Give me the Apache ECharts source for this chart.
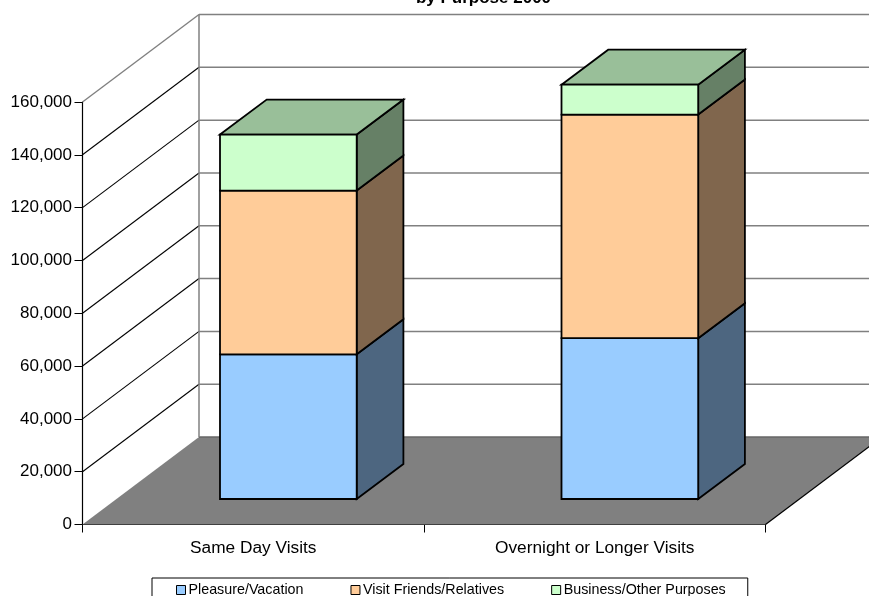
<!DOCTYPE html>
<html><head><meta charset="utf-8">
<style>html,body{margin:0;padding:0;background:#fff}#c{width:869px;height:596px}</style>
<script src="https://cdn.jsdelivr.net/npm/echarts@6/dist/echarts.min.js"></script>
</head><body><div id="c"></div>
<script>
const categories = ['Same Day Visits', 'Overnight or Longer Visits'];
const seriesNames = ['Pleasure/Vacation', 'Visit Friends/Relatives', 'Business/Other Purposes'];
const pleasure = [54800, 60900];
const friends = [62000, 84700];
const business = [21200, 11300];
const yTicks = [0, 20000, 40000, 60000, 80000, 100000, 120000, 140000, 160000];
const frontColors = ['#99CCFF', '#FFCC99', '#CCFFCC'];
const sideColors = ['#4D6680', '#80664D', '#668066'];
const topColor = '#99BF99';

const FONT = 'Liberation Sans, Arial, sans-serif';
const DX = 116.5, DY = -87.5;  // wall depth
const BDX = 46.7, BDY = -35;   // bar depth
const INY = -25.5;             // bar front inset from axis plane
const HALF_OFFSET = 33.25;     // bar left edge, relative to category centre
const BARW = 136.7;
const STROKE = 1.8;

const chart = echarts.init(document.getElementById('c'), null, {renderer: 'canvas'});
const stacks = [pleasure, friends, business];

function poly(points, fill, stroke, lw) {
  return {type: 'polygon', shape: {points},
    style: {fill: fill, stroke: stroke || null, lineWidth: lw === undefined ? 1 : lw, lineJoin: 'miter'}};
}
function line(a, b, color, lw) {
  return {type: 'line', shape: {x1: a[0], y1: a[1], x2: b[0], y2: b[1]},
    style: {stroke: color, lineWidth: lw, fill: null}};
}

const series = [
  {
    type: 'custom', coordinateSystem: 'cartesian2d', silent: true, z: 1,
    data: yTicks.map(v => [0, v]),
    renderItem(params, api) {
      const v = api.value(1);
      const y = api.coord([0, v])[1];
      const left = params.coordSys.x, right = left + params.coordSys.width;
      const top = v === yTicks[yTicks.length - 1];
      const children = [];
      if (v === 0) {
        children.push(poly([[left, y], [left + DX, y + DY], [right + DX, y + DY], [right, y]], '#808080', null, 0));
        children.push(line([right, y], [right + DX, y + DY], '#000', 1.2));
        children.push(line([left + DX, y + DY], [869, y + DY], '#666', 1.5));
      } else {
        children.push(line([left, y], [left + DX, y + DY], top ? '#808080' : '#000', top ? 1.4 : 1.1));
        children.push(line([left + DX, y + DY], [869, y + DY], '#808080', 1.5));
      }
      if (top) {
        const y0 = api.coord([0, 0])[1];
        children.push(line([left + DX, y + DY], [left + DX, y0 + DY], '#808080', 1.5));
      }
      return {type: 'group', children};
    }
  }
];

stacks.forEach((vals, si) => {
  series.push({
    type: 'custom', name: seriesNames[si], coordinateSystem: 'cartesian2d', z: 3 + si, silent: true,
    itemStyle: {color: frontColors[si]},
    data: categories.map((c, i) => [i,
      stacks.slice(0, si).reduce((s, a) => s + a[i], 0),
      stacks.slice(0, si + 1).reduce((s, a) => s + a[i], 0)]),
    renderItem(params, api) {
      const i = api.value(0), lo = api.value(1), hi = api.value(2);
      const c = api.coord([i, 0]);
      const yLo = api.coord([i, lo])[1] + INY, yHi = api.coord([i, hi])[1] + INY;
      const L = c[0] - HALF_OFFSET, R = L + BARW;
      const kids = [
        poly([[R, yLo], [R + BDX, yLo + BDY], [R + BDX, yHi + BDY], [R, yHi]], sideColors[si], '#000', STROKE),
        poly([[L, yLo], [R, yLo], [R, yHi], [L, yHi]], frontColors[si], '#000', STROKE)
      ];
      if (si === stacks.length - 1) {
        kids.splice(1, 0, poly([[L, yHi], [L + BDX, yHi + BDY], [R + BDX, yHi + BDY], [R, yHi]], topColor, '#000', STROKE));
      }
      return {type: 'group', children: kids};
    }
  });
});

chart.setOption({
  animation: false,
  backgroundColor: '#fff',
  title: {
    text: 'by Purpose 2000', left: 478.5, top: -15, textAlign: 'center',
    textStyle: {fontFamily: FONT, fontSize: 17, fontWeight: 'bold', color: '#000'}
  },
  legend: {
    data: seriesNames, left: 152, top: 578,
    padding: [5, 22, 16, 24], itemGap: 47, itemWidth: 9, itemHeight: 9,
    icon: 'rect', borderColor: '#000', borderWidth: 1, backgroundColor: '#fff',
    selectedMode: false,
    itemStyle: {borderColor: '#000', borderWidth: 1},
    textStyle: {fontFamily: FONT, fontSize: 14.3, color: '#000', padding: [0, 0, 0, -2]}
  },
  grid: {left: 82.5, right: 103.5, top: 102, bottom: 71.5, containLabel: false},
  xAxis: {
    type: 'category', data: categories, boundaryGap: true,
    axisLine: {lineStyle: {color: '#000', width: 1.2}},
    axisTick: {show: true, length: 8, lineStyle: {color: '#000'}},
    axisLabel: {fontFamily: FONT, fontSize: 17.3, color: '#000', margin: 15}
  },
  yAxis: {
    type: 'value', min: 0, max: 160000, interval: 20000,
    axisLine: {show: true, lineStyle: {color: '#000', width: 1.2}},
    axisTick: {show: true, length: 8, lineStyle: {color: '#000'}},
    splitLine: {show: false},
    axisLabel: {fontFamily: FONT, fontSize: 17, color: '#000', margin: 10.5,
      padding: [3, 0, 0, 0],
      formatter: v => v.toLocaleString('en-US')}
  },
  series
});
</script></body></html>
